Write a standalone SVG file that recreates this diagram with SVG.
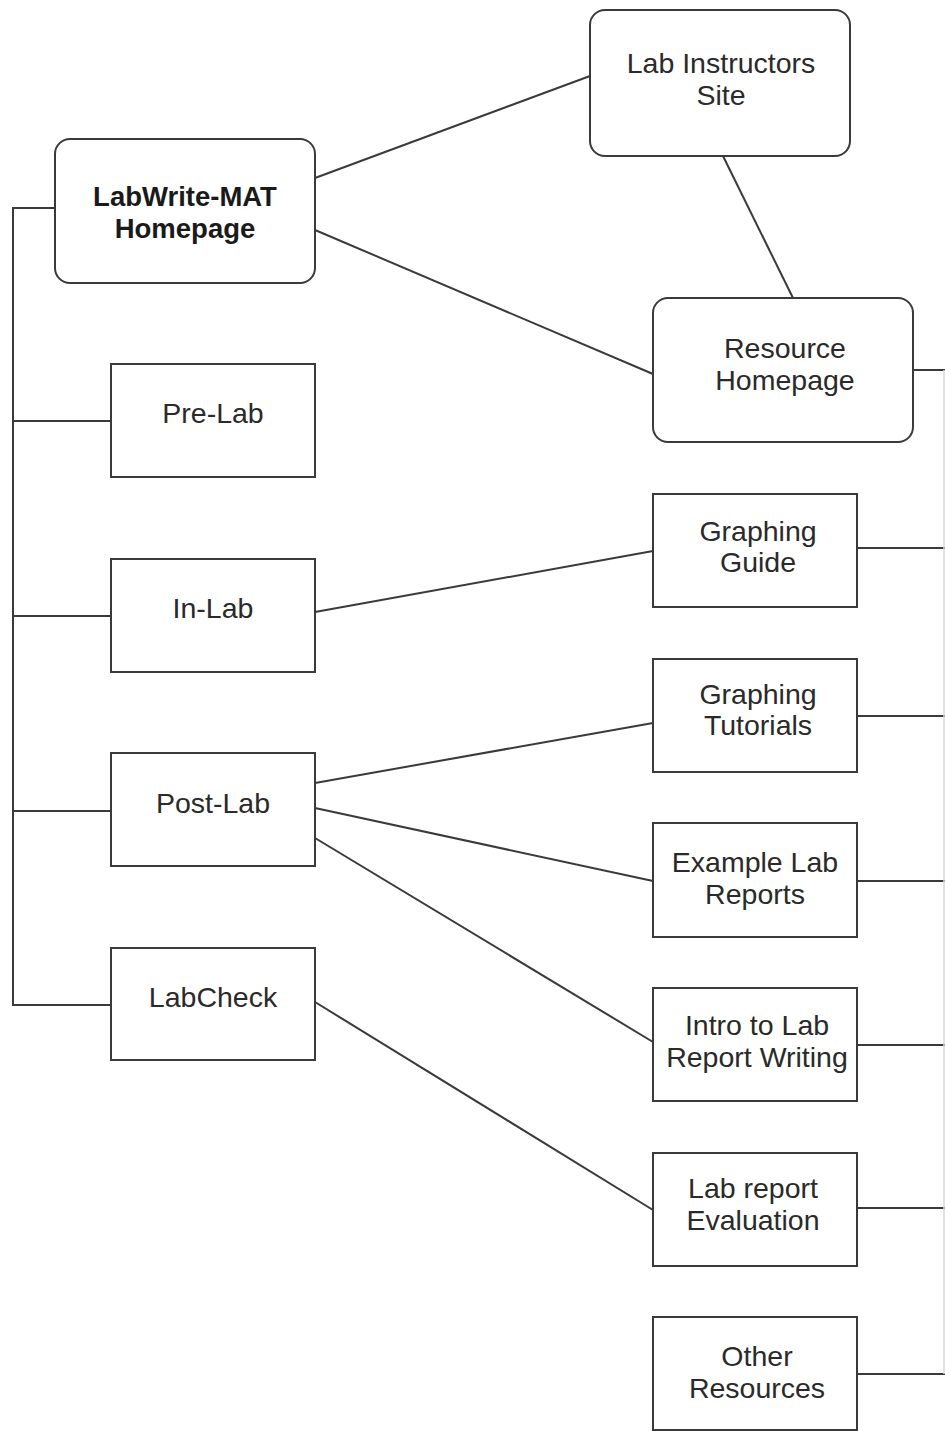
<svg xmlns="http://www.w3.org/2000/svg" width="945" height="1431" viewBox="0 0 945 1431">
<style>
.box{fill:#fff;stroke:#3a3a3a;stroke-width:2}
.t{font-family:"Liberation Sans",Arial,sans-serif;font-size:28.5px;fill:#2a2a2a;text-anchor:middle}
.b{font-weight:bold;font-size:27.5px;fill:#1a1a1a}
.c{stroke:#3a3a3a;stroke-width:2;fill:none}
</style>
<rect width="945" height="1431" fill="#fff"/>
<g id="connectors">
<polyline class="c" points="55,208 13,208 13,1005 111,1005"/>
<line class="c" x1="13" y1="421" x2="111" y2="421"/>
<line class="c" x1="13" y1="616" x2="111" y2="616"/>
<line class="c" x1="13" y1="811" x2="111" y2="811"/>
<line class="c" x1="315" y1="178" x2="590" y2="76"/>
<line class="c" x1="315" y1="230" x2="653" y2="374"/>
<line class="c" x1="723" y1="156" x2="793" y2="298"/>
<line class="c" x1="315" y1="612" x2="653" y2="551"/>
<line class="c" x1="315" y1="783" x2="653" y2="723"/>
<line class="c" x1="315" y1="808" x2="653" y2="881"/>
<line class="c" x1="315" y1="838" x2="653" y2="1042"/>
<line class="c" x1="315" y1="1002" x2="653" y2="1210"/>
<line class="c" x1="913" y1="370" x2="945" y2="370"/>
<line class="c" x1="857" y1="548" x2="945" y2="548"/>
<line class="c" x1="857" y1="716" x2="945" y2="716"/>
<line class="c" x1="857" y1="881" x2="945" y2="881"/>
<line class="c" x1="857" y1="1045" x2="945" y2="1045"/>
<line class="c" x1="857" y1="1208" x2="945" y2="1208"/>
<line class="c" x1="857" y1="1374" x2="945" y2="1374"/>
<line x1="944" y1="370" x2="944" y2="1374" stroke="#d8d8d8" stroke-width="1.5"/>
</g>
<g id="labwrite-homepage">
<rect class="box" x="55" y="139" width="260" height="144" rx="15"/>
<text class="t b" x="185" y="206">LabWrite-MAT</text>
<text class="t b" x="185" y="238">Homepage</text>
</g>
<g id="lab-instructors">
<rect class="box" x="590" y="10" width="260" height="146" rx="15"/>
<text class="t" x="721" y="73">Lab Instructors</text>
<text class="t" x="721" y="105">Site</text>
</g>
<g id="resource-homepage">
<rect class="box" x="653" y="298" width="260" height="144" rx="15"/>
<text class="t" x="785" y="358">Resource</text>
<text class="t" x="785" y="390">Homepage</text>
</g>
<g id="pre-lab">
<rect class="box" x="111" y="364" width="204" height="113"/>
<text class="t" x="213" y="423">Pre-Lab</text>
</g>
<g id="in-lab">
<rect class="box" x="111" y="559" width="204" height="113"/>
<text class="t" x="213" y="618">In-Lab</text>
</g>
<g id="post-lab">
<rect class="box" x="111" y="753" width="204" height="113"/>
<text class="t" x="213" y="813">Post-Lab</text>
</g>
<g id="labcheck">
<rect class="box" x="111" y="948" width="204" height="112"/>
<text class="t" x="213" y="1007">LabCheck</text>
</g>
<g id="graphing-guide">
<rect class="box" x="653" y="494" width="204" height="113"/>
<text class="t" x="758" y="541">Graphing</text>
<text class="t" x="758" y="572">Guide</text>
</g>
<g id="graphing-tutorials">
<rect class="box" x="653" y="659" width="204" height="113"/>
<text class="t" x="758" y="704">Graphing</text>
<text class="t" x="758" y="735">Tutorials</text>
</g>
<g id="example-lab-reports">
<rect class="box" x="653" y="823" width="204" height="114"/>
<text class="t" x="755" y="872">Example Lab</text>
<text class="t" x="755" y="904">Reports</text>
</g>
<g id="intro-lab-report">
<rect class="box" x="653" y="988" width="204" height="113"/>
<text class="t" x="757" y="1035">Intro to Lab</text>
<text class="t" x="757" y="1067">Report Writing</text>
</g>
<g id="lab-report-evaluation">
<rect class="box" x="653" y="1153" width="204" height="113"/>
<text class="t" x="753" y="1198">Lab report</text>
<text class="t" x="753" y="1230">Evaluation</text>
</g>
<g id="other-resources">
<rect class="box" x="653" y="1317" width="204" height="113"/>
<text class="t" x="757" y="1366">Other</text>
<text class="t" x="757" y="1398">Resources</text>
</g>
</svg>
